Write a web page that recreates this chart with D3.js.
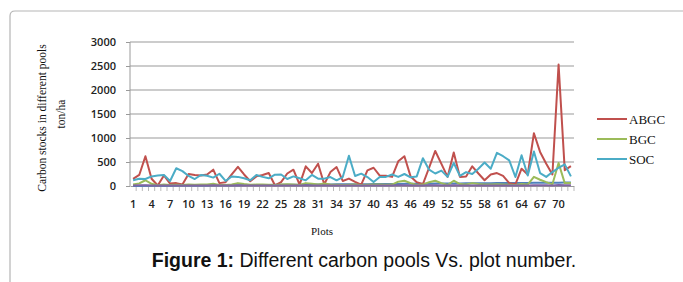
<!DOCTYPE html>
<html><head><meta charset="utf-8">
<script src="https://cdn.jsdelivr.net/npm/d3@7/dist/d3.min.js"></script>
<style>html,body{margin:0;padding:0;background:#fff;}svg{display:block;}</style>
</head><body><svg id="c" width="683" height="282"></svg>
<script>
const plots = [1,2,3,4,5,6,7,8,9,10,11,12,13,14,15,16,17,18,19,20,21,22,23,24,25,26,27,28,29,30,31,32,33,34,35,36,37,38,39,40,41,42,43,44,45,46,47,48,49,50,51,52,53,54,55,56,57,58,59,60,61,62,63,64,65,66,67,68,69,70,71,72];
const plotNumber = [1,2,3,4,5,6,7,8,9,10,11,12,13,14,15,16,17,18,19,20,21,22,23,24,25,26,27,28,29,30,31,32,33,34,35,36,37,38,39,40,41,42,43,44,45,46,47,48,49,50,51,52,53,54,55,56,57,58,59,60,61,62,63,64,65,66,67,68,69,70,71,72];
const abgc = [150,230,620,150,10,220,50,60,30,250,230,220,240,340,60,80,240,400,240,100,200,230,270,15,80,260,340,30,410,270,465,35,290,395,105,155,85,30,325,380,215,215,190,515,620,200,80,40,380,730,460,190,700,190,200,410,260,120,240,270,210,60,35,360,240,1100,710,465,240,2530,330,415];
const bgc = [30,55,120,45,15,30,20,25,20,30,25,30,30,45,20,20,30,60,40,25,30,30,25,20,30,35,30,20,60,45,30,50,30,25,20,25,30,20,25,30,30,25,30,90,110,60,20,30,80,110,60,20,110,40,30,60,40,30,30,35,30,25,20,40,30,190,130,80,35,480,60,60];
const litter = [12,15,14,10,8,12,10,11,9,13,12,10,12,14,9,10,12,15,13,10,12,11,12,9,10,13,12,9,14,12,11,12,10,11,9,10,12,9,11,12,11,10,12,15,16,12,9,11,14,16,12,10,15,12,11,13,12,10,11,12,11,10,9,13,12,18,16,14,12,20,14,14];
const soc = [120,150,145,200,220,230,105,370,310,210,145,230,215,175,255,105,200,190,160,120,230,190,160,235,240,145,200,160,118,230,153,153,187,118,187,630,208,257,187,83,187,190,240,190,250,180,200,580,340,260,320,190,480,210,290,250,360,490,360,690,620,535,187,640,220,720,270,190,290,380,450,200];
const yTicks = [0,500,1000,1500,2000,2500,3000];
const legendNames = ["ABGC","BGC","SOC"];

const svg = d3.select("#c");
// outer frame
svg.append("path").attr("d","M10,290 L10,16 Q10,11 15,11 L700,11")
  .attr("fill","none").attr("stroke","#b5b5b5").attr("stroke-width",1.2);

const x = d3.scaleBand().domain(plots).range([130,574]);
const y = d3.scaleLinear().domain([0,3000]).range([186,42]);
const cx = d => x(d) + x.bandwidth()/2;

// gridlines
svg.append("g").selectAll("line").data(yTicks.filter(t=>t>0)).join("line")
  .attr("x1",130).attr("x2",574).attr("y1",d=>y(d)).attr("y2",d=>y(d))
  .attr("stroke","#9a9a9a").attr("stroke-width",1.2);

// y axis
const ya = svg.append("g").attr("transform","translate(130,0)")
  .call(d3.axisLeft(y).tickValues(yTicks).tickSize(4).tickPadding(10).tickFormat(d3.format("d")));
ya.select(".domain").attr("stroke","#9a9a9a").attr("d","M0,42V186");
ya.selectAll(".tick line").attr("stroke","#9a9a9a");
ya.selectAll("text").attr("font-family","'Open Sans'").attr("font-size","11px").attr("fill","#222").attr("font-weight",600);

// x axis
const xa = svg.append("g").attr("transform","translate(0,186)")
  .call(d3.axisBottom(x).tickSize(0).tickPadding(14)
    .tickFormat(d => ((d-1)%3===0) ? d : ""));
xa.select(".domain").attr("stroke","#9a9a9a").attr("stroke-width",1.2);
xa.selectAll("text").attr("font-family","'Open Sans'").attr("font-size","11px").attr("fill","#222").attr("font-weight",600);
// category boundary ticks
svg.append("g").selectAll("line").data(plots).join("line")
  .attr("x1",d=>x(d)+x.bandwidth()).attr("x2",d=>x(d)+x.bandwidth())
  .attr("y1",187).attr("y2",191).attr("stroke","#bbb").attr("stroke-width",1);

// lines
const line = arr => d3.line().x((d,i)=>cx(plots[i])).y(d=>y(d))(arr);
const series = [
  {v:plotNumber,c:"#4F81BD"},
  {v:abgc,c:"#C0504D"},
  {v:bgc,c:"#9BBB59"},
  {v:litter,c:"#8064A2"},
  {v:soc,c:"#4BACC6"}
];
svg.append("g").selectAll("path").data(series).join("path")
  .attr("d",s=>line(s.v)).attr("fill","none").attr("stroke",s=>s.c)
  .attr("stroke-width",2).attr("stroke-linejoin","round");

// legend
const lg = svg.append("g").selectAll("g").data(legendNames).join("g")
  .attr("transform",(d,i)=>`translate(597,${119+i*20})`);
lg.append("line").attr("x1",0).attr("x2",30).attr("stroke",(d,i)=>["#C0504D","#9BBB59","#4BACC6"][i]).attr("stroke-width",2);
lg.append("text").attr("x",32).attr("y",4.5).text(d=>d)
  .attr("font-family","'Liberation Serif'").attr("font-size","13px").attr("fill","#111");

// y title (two lines)
svg.append("text").attr("transform","translate(46,118) rotate(-90)")
  .attr("text-anchor","middle").attr("font-family","'Liberation Serif'").attr("font-size","11.5px").attr("fill","#111")
  .text("Carbon stocks in different pools");
svg.append("text").attr("transform","translate(65,114) rotate(-90)")
  .attr("text-anchor","middle").attr("font-family","'Liberation Serif'").attr("font-size","11.5px").attr("fill","#111")
  .text("ton/ha");

// x title
svg.append("text").attr("x",322).attr("y",235).attr("text-anchor","middle")
  .attr("font-family","'Liberation Serif'").attr("font-size","11px").attr("fill","#111").text("Plots");

// caption
const cap = svg.append("text").attr("x",364).attr("y",267).attr("text-anchor","middle")
  .attr("font-family","'Liberation Sans'").attr("font-size","19.5px").attr("fill","#111");
cap.append("tspan").attr("font-weight","bold").text("Figure 1:");
cap.append("tspan").text(" Different carbon pools Vs. plot number.");
</script></body></html>
